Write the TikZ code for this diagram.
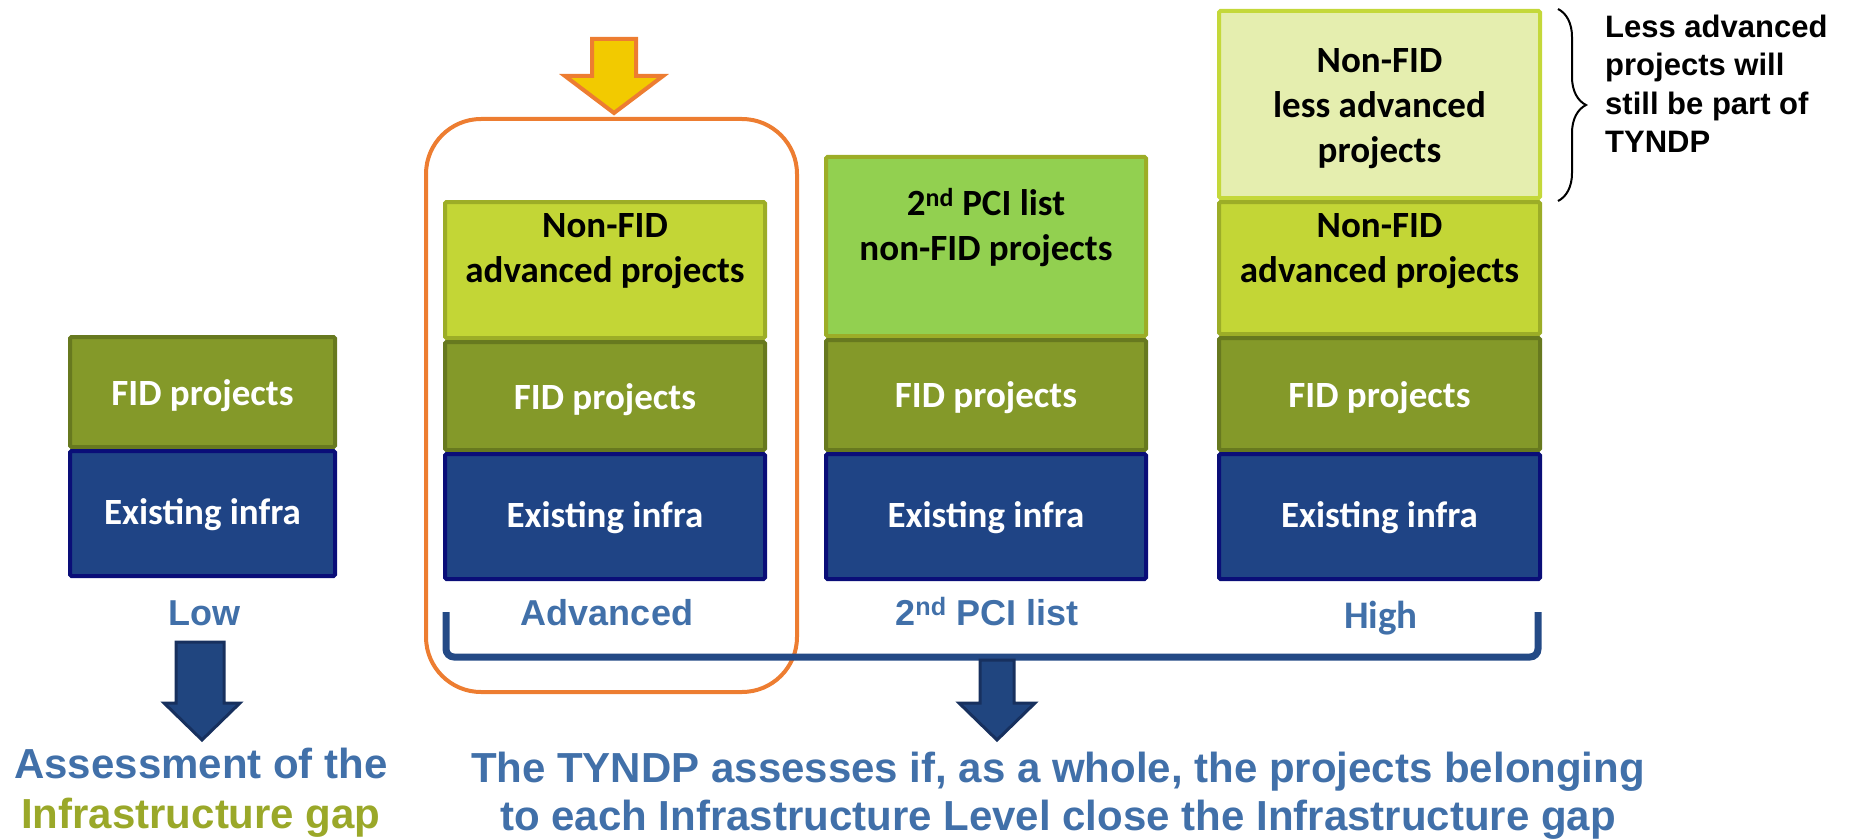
\documentclass[tikz,border=0pt]{standalone}
\usepackage{fontspec}
\setmainfont{Liberation Sans}
\newfontfamily\calfont{Carlito}
\usetikzlibrary{decorations.pathreplacing}
\definecolor{existfill}{HTML}{1F4485}
\definecolor{existline}{HTML}{0A0E78}
\definecolor{fidfill}{HTML}{849929}
\definecolor{fidline}{HTML}{67791F}
\definecolor{advfill}{HTML}{C3D636}
\definecolor{advline}{HTML}{9CAD27}
\definecolor{pcifill}{HTML}{92D050}
\definecolor{lessfill}{HTML}{E5EEAF}
\definecolor{lessline}{HTML}{C4D83A}
\definecolor{selorange}{HTML}{ED7D31}
\definecolor{selyellow}{HTML}{F2CA00}
\definecolor{arrfill}{HTML}{20457F}
\definecolor{arrline}{HTML}{17305E}
\definecolor{brackblue}{HTML}{244A86}
\definecolor{labblue}{HTML}{4170A9}
\definecolor{labgreen}{HTML}{9AA829}
\newcommand{\blk}[7]{%
  \pgfmathsetmacro\bw{#6-#4-4}\pgfmathsetmacro\bh{#7-#5-4}%
  \node[blockbox, fill=#2, draw=#3, minimum width=\bw pt, minimum height=\bh pt, anchor=north west] (#1) at (#4+2,#5+2) {};}
\begin{document}
\begin{tikzpicture}[x=1pt,y=-1pt,
  blockbox/.style={line width=4pt, rounded corners=1.5pt, inner sep=0pt, outer sep=0pt},
  boxtxt/.style={font=\calfont\bfseries\fontsize{37}{44.5}\selectfont, align=center, anchor=base, inner sep=0pt},
  whitetxt/.style={boxtxt, text=white},
  blacktxt/.style={boxtxt, text=black},
  levellab/.style={font=\bfseries\fontsize{36}{40}\selectfont, text=labblue, anchor=base, inner sep=0pt},
  bigtxt/.style={font=\bfseries\fontsize{42}{48}\selectfont, text=labblue, anchor=base, inner sep=0pt},
  blockarrow/.style={fill=arrfill, draw=arrline, line width=3pt, line join=miter},
  bracket/.style={draw=brackblue, line width=7pt, rounded corners=8pt}]
\useasboundingbox (0,0) rectangle (1850,840);

% selection frame and arrow
\node[draw=selorange, line width=4pt, rounded corners=55pt, minimum width=371pt, minimum height=573pt, anchor=north west, inner sep=0pt] (sel) at (424,117) {};
\draw[fill=selyellow, draw=selorange, line width=4pt, line join=miter]
  (592,39) -- (592,76) -- (565,76) -- (614,113) -- (663,76) -- (636,76) -- (636,39) -- cycle;

% column 1
\blk{c1fid}{fidfill}{fidline}{68}{335}{337}{449}
\blk{c1ex}{existfill}{existline}{68}{449}{337}{578}
\node[whitetxt] (t1fid) at (202.5,405) {FID projects};
\node[whitetxt] (t1ex) at (202.5,524) {Existing infra};
\node[levellab] (low) at (204,625) {Low};

% column 2
\blk{c2adv}{advfill}{advline}{443}{200}{767}{340}
\blk{c2fid}{fidfill}{fidline}{443}{340}{767}{452}
\blk{c2ex}{existfill}{existline}{443}{452}{767}{581}
\node[blacktxt] (t2adv) at (605,282) {Non-FID\\advanced projects};
\node[whitetxt] (t2fid) at (605,409) {FID projects};
\node[whitetxt] (t2ex) at (605,527) {Existing infra};
\node[levellab] (adv) at (607,625) {Advanced};

% column 3
\blk{c3pci}{pcifill}{advline}{824}{155}{1148}{338}
\blk{c3fid}{fidfill}{fidline}{824}{338}{1148}{452}
\blk{c3ex}{existfill}{existline}{824}{452}{1148}{581}
\node[blacktxt] (t3pci) at (986,260) {2\textsuperscript{nd} PCI list\\non-FID projects};
\node[whitetxt] (t3fid) at (986,407) {FID projects};
\node[whitetxt] (t3ex) at (986,527) {Existing infra};
\node[levellab] (pci) at (987,625) {2\textsuperscript{nd} PCI list};

% column 4
\blk{c4less}{lessfill}{lessline}{1217}{9}{1542}{200}
\blk{c4adv}{advfill}{advline}{1217}{200}{1542}{336}
\blk{c4fid}{fidfill}{fidline}{1217}{336}{1542}{452}
\blk{c4ex}{existfill}{existline}{1217}{452}{1542}{581}
\node[blacktxt] (t4less) at (1379.5,162) {Non-FID\\less advanced\\projects};
\node[blacktxt] (t4adv) at (1379.5,282) {Non-FID\\advanced projects};
\node[whitetxt] (t4fid) at (1379.5,407) {FID projects};
\node[whitetxt] (t4ex) at (1379.5,527) {Existing infra};
\node[levellab, font=\calfont\bfseries\fontsize{39}{40}\selectfont] (high) at (1381,628) {High};

% brace and note
\coordinate (bt) at (1558,9);
\coordinate (bb) at (1558,201);
\draw[line width=2pt, decorate, decoration={brace, amplitude=28pt}] (bt) -- (bb);
\node[font=\bfseries\fontsize{31}{38.5}\selectfont, align=left, anchor=base west, inner sep=0pt] (note) at (1605,153) {Less advanced\\projects will\\still be part of\\TYNDP};

% bottom bracket
\coordinate (bl) at (446,612);
\coordinate (br) at (1538,612);
\draw[bracket] (bl) -- (446,657) -- (1538,657) -- (br);

% arrows
\draw[blockarrow] (176,642) -- (176,703) -- (164,703) -- (202,740) -- (240,703) -- (224,703) -- (224,642) -- cycle;
\draw[blockarrow] (980,660) -- (980,703) -- (959,703) -- (997,740) -- (1035,703) -- (1014,703) -- (1014,660) -- cycle;

% conclusions
\node[bigtxt, align=center] (assess) at (201,828) {Assessment of the\\[2pt]\textcolor{labgreen}{Infrastructure gap}};
\node[bigtxt, align=center] (tyndp) at (1058,830) {The TYNDP assesses if, as a whole, the projects belonging\\to each Infrastructure Level close the Infrastructure gap};
\end{tikzpicture}
\end{document}
